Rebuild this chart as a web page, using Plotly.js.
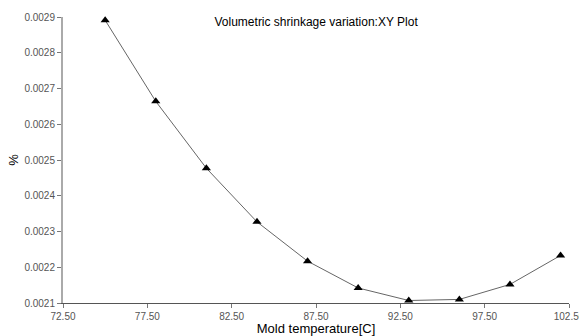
<!DOCTYPE html>
<html>
<head>
<meta charset="utf-8">
<script src="https://cdn.plot.ly/plotly-3.0.1.min.js"></script>
<style>html,body{margin:0;padding:0;background:#fff;}#chart{width:579px;height:336px;}</style>
</head>
<body>
<div id="chart"></div>
<script>
const moldTemperature = [75, 78, 81, 84, 87, 90, 93, 96, 99, 102];
const volumetricShrinkage = [0.002891, 0.002664, 0.002477, 0.002327, 0.002217, 0.002142, 0.002107, 0.002110, 0.002152, 0.002233];
const xTickVals = [72.5, 77.5, 82.5, 87.5, 92.5, 97.5, 102.5];
const yTickVals = [0.0021, 0.0022, 0.0023, 0.0024, 0.0025, 0.0026, 0.0027, 0.0028, 0.0029];

const trace = {
  x: moldTemperature,
  y: volumetricShrinkage,
  type: 'scatter',
  mode: 'lines+markers',
  line: {color: '#666666', width: 1},
  marker: {symbol: 'triangle-up', size: 8, color: '#000000'},
  cliponaxis: false,
  hoverinfo: 'skip'
};

const layout = {
  width: 579, height: 336,
  margin: {l: 63, r: 9.5, t: 16.7, b: 33.3, pad: 0},
  paper_bgcolor: '#ffffff', plot_bgcolor: '#ffffff',
  font: {family: 'Liberation Sans, Arial, sans-serif', size: 10, color: '#555555'},
  showlegend: false,
  title: {text: 'Volumetric shrinkage variation:XY Plot', x: 0.546, xanchor: 'center', y: 0.934, yanchor: 'middle', font: {size: 12, color: '#000000'}},
  xaxis: {
    range: [72.5, 102.5001], tickvals: xTickVals, tickformat: '.2f',
    ticklabeloverflow: 'allow',
    showgrid: false, zeroline: false, showline: true, linecolor: '#555555', linewidth: 1,
    ticks: 'outside', ticklen: 4, tickcolor: '#777777',
    tickfont: {size: 10, color: '#555555'},
    title: {text: 'Mold temperature[C]', font: {size: 13, color: '#000000'}, standoff: 3}
  },
  yaxis: {
    range: [0.0021, 0.0029], tickvals: yTickVals, tickformat: '.4f',
    showgrid: false, zeroline: false, showline: true, linecolor: '#aaaaaa', linewidth: 2,
    ticks: 'outside', ticklen: 4, tickcolor: '#777777',
    tickfont: {size: 10, color: '#555555'},
    title: {text: '%', font: {size: 13, color: '#000000'}, standoff: 3}
  }
};

Plotly.newPlot('chart', [trace], layout, {staticPlot: true, displayModeBar: false});
</script>
</body>
</html>
